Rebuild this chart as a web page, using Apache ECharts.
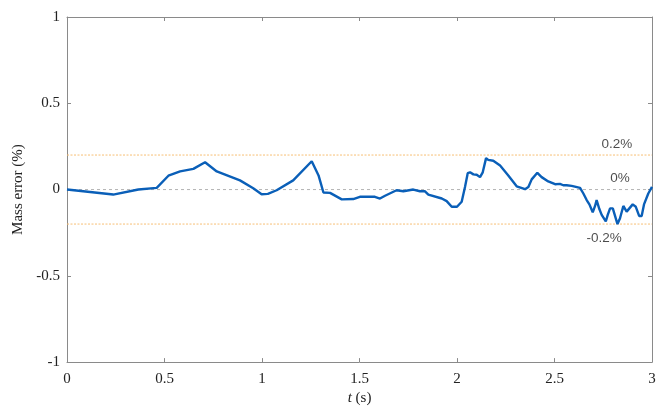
<!DOCTYPE html>
<html>
<head>
<meta charset="utf-8">
<script src="https://cdn.jsdelivr.net/npm/echarts@6/dist/echarts.min.js"></script>
<style>
  html, body { margin: 0; padding: 0; background: #fff; }
  #chart { width: 664px; height: 411px; }
</style>
</head>
<body>
<div id="chart"></div>
<script>
// Time samples (s)
const timeS = [0, 0.237, 0.366, 0.46, 0.52, 0.58, 0.648, 0.708, 0.768, 0.887,
  0.955, 0.998, 1.03, 1.075, 1.16, 1.255, 1.29, 1.315, 1.349, 1.409,
  1.468, 1.502, 1.579, 1.605, 1.631, 1.69, 1.725, 1.776, 1.81, 1.836,
  1.853, 1.922, 1.947, 1.973, 2.0, 2.024, 2.041, 2.055, 2.067, 2.084,
  2.101, 2.118, 2.132, 2.149, 2.16, 2.186, 2.221, 2.263, 2.306, 2.349,
  2.366, 2.383, 2.412, 2.434, 2.468, 2.503, 2.528, 2.545, 2.562, 2.588,
  2.631, 2.648, 2.665, 2.679, 2.696, 2.708, 2.716, 2.73, 2.742, 2.763,
  2.773, 2.785, 2.799, 2.823, 2.836, 2.853, 2.87, 2.901, 2.917, 2.934,
  2.947, 2.959, 2.981, 3.0];
// Mass error (%)
const massError = [0, -0.029, 0, 0.01, 0.08, 0.105, 0.12, 0.158, 0.105, 0.053,
  0.008, -0.027, -0.025, -0.004, 0.053, 0.164, 0.082, -0.017, -0.019, -0.057,
  -0.055, -0.042, -0.042, -0.052, -0.036, -0.004, -0.01, 0, -0.01, -0.01,
  -0.029, -0.052, -0.067, -0.1, -0.1, -0.071, 0.015, 0.095, 0.1, 0.088,
  0.086, 0.072, 0.1, 0.182, 0.172, 0.167, 0.139, 0.082, 0.019, 0.002,
  0.015, 0.059, 0.097, 0.072, 0.047, 0.031, 0.033, 0.025, 0.025, 0.021,
  0.01, -0.023, -0.061, -0.086, -0.132, -0.095, -0.061, -0.113, -0.147, -0.185,
  -0.147, -0.109, -0.109, -0.2, -0.166, -0.095, -0.128, -0.086, -0.1, -0.153,
  -0.153, -0.086, -0.023, 0.015];

// Reference levels and their annotations
const refLevels = [0.2, 0, -0.2];
const refLabels = ['0.2%', '0%', '-0.2%'];
const refLabelT = [2.82, 2.836, 2.755];
const refLabelSide = ['top', 'top', 'bottom'];

const xTicks = [0, 0.5, 1, 1.5, 2, 2.5, 3];
const yTicks = [-1, -0.5, 0, 0.5, 1];

const axisGray = '#8a8a8a';
const serif = '"Liberation Serif", "Times New Roman", serif';
const xMin = xTicks[0];
const xMax = xTicks[xTicks.length - 1];

const chart = echarts.init(document.getElementById('chart'), null, { renderer: 'canvas' });

// Shared style for the four sides of the plot box
const boxAxis = () => ({
  axisLine: { show: true, onZero: false, lineStyle: { color: axisGray, width: 1 } },
  axisTick: { show: true, inside: true, length: 4, lineStyle: { color: axisGray } },
  splitLine: { show: false }
});

// Horizontal reference lines spanning the full time range
const refSeries = refLevels.map(v => ({
  type: 'line',
  silent: true,
  symbol: 'none',
  data: [[xMin, v], [xMax, v]],
  lineStyle: v === 0
    ? { color: '#b4b4b4', type: [3, 3], width: 1 }
    : { color: '#f7bf75', type: [2, 1.5], width: 1 },
  z: 2
}));

chart.setOption({
  animation: false,
  grid: { left: 67, right: 12, top: 17, bottom: 45 },
  xAxis: [
    Object.assign({
      type: 'value', min: xMin, max: xMax, interval: 0.5,
      position: 'bottom',
      axisLabel: { color: '#222', fontFamily: serif, fontSize: 15, margin: 9 },
      name: '{i|t} (s)',
      nameLocation: 'middle', nameGap: 27,
      nameTextStyle: {
        color: '#222', fontFamily: serif, fontSize: 15,
        rich: { i: { fontStyle: 'italic', fontFamily: serif, fontSize: 15, color: '#222' } }
      }
    }, boxAxis()),
    Object.assign({
      type: 'value', min: xMin, max: xMax, interval: 0.5,
      position: 'top',
      axisLabel: { show: false }
    }, boxAxis())
  ],
  yAxis: [
    Object.assign({
      type: 'value', min: yTicks[0], max: yTicks[yTicks.length - 1], interval: 0.5,
      position: 'left',
      axisLabel: { color: '#222', fontFamily: serif, fontSize: 15, margin: 7 },
      name: 'Mass error (%)',
      nameLocation: 'middle', nameGap: 39, nameRotate: 90,
      nameTextStyle: { color: '#222', fontFamily: serif, fontSize: 15 }
    }, boxAxis()),
    Object.assign({
      type: 'value', min: yTicks[0], max: yTicks[yTicks.length - 1], interval: 0.5,
      position: 'right',
      axisLabel: { show: false }
    }, boxAxis())
  ],
  series: refSeries.concat([
    {
      type: 'line',
      data: timeS.map((t, i) => [t, massError[i]]),
      showSymbol: false,
      symbol: 'none',
      lineStyle: { color: '#0a5fb8', width: 2.4 },
      z: 5
    },
    {
      type: 'scatter',
      symbolSize: 0,
      silent: true,
      data: refLevels.map((v, i) => ({
        value: [refLabelT[i], v],
        label: {
          show: true,
          position: refLabelSide[i],
          distance: refLabelSide[i] === 'top' ? 4 : 7,
          formatter: refLabels[i],
          color: '#1e1e1e',
          fontFamily: '"Liberation Sans", Arial, sans-serif',
          fontSize: 13.5
        }
      })),
      z: 6
    }
  ])
});
</script>
</body>
</html>
